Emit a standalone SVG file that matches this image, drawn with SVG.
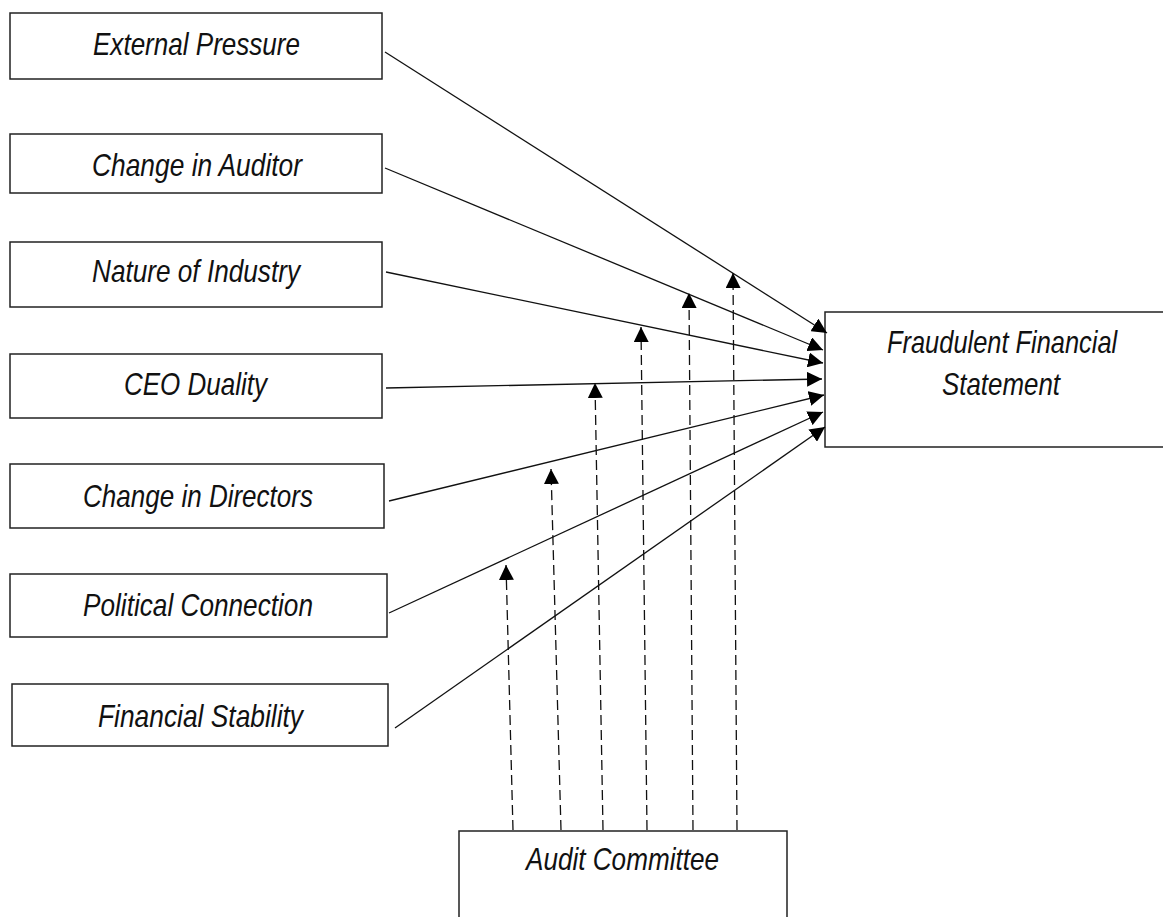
<svg xmlns="http://www.w3.org/2000/svg" width="1163" height="917" viewBox="0 0 1163 917">
<style>
.box{fill:#fff;stroke:#222;stroke-width:1.5}
.lbl{font-family:"Liberation Sans",Arial,sans-serif;font-style:italic;font-size:31.5px;fill:#111}
.ln{stroke:#111;stroke-width:1.3;fill:none}
.dash{stroke:#111;stroke-width:1.3;fill:none;stroke-dasharray:10 5}
</style>
<defs>
<marker id="ah" markerUnits="userSpaceOnUse" markerWidth="15" markerHeight="15" refX="14" refY="7" orient="auto" viewBox="0 0 14 14">
<path d="M0,0 L14,7 L0,14 z" fill="#000"/>
</marker>
</defs>
<rect width="1163" height="917" fill="#fff"/>
<g id="n-external"><rect class="box" x="10" y="13" width="372" height="66"/><text class="lbl" x="93" y="55" textLength="207" lengthAdjust="spacingAndGlyphs">External Pressure</text></g>
<g id="n-auditor"><rect class="box" x="10" y="134" width="372" height="59"/><text class="lbl" x="92" y="176" textLength="210" lengthAdjust="spacingAndGlyphs">Change in Auditor</text></g>
<g id="n-industry"><rect class="box" x="10" y="242" width="372" height="65"/><text class="lbl" x="92" y="282" textLength="208" lengthAdjust="spacingAndGlyphs">Nature of Industry</text></g>
<g id="n-ceo"><rect class="box" x="10" y="354" width="372" height="64"/><text class="lbl" x="124" y="395" textLength="143" lengthAdjust="spacingAndGlyphs">CEO Duality</text></g>
<g id="n-directors"><rect class="box" x="10" y="464" width="374" height="64"/><text class="lbl" x="83" y="507" textLength="230" lengthAdjust="spacingAndGlyphs">Change in Directors</text></g>
<g id="n-political"><rect class="box" x="10" y="574" width="377" height="63"/><text class="lbl" x="83" y="616" textLength="230" lengthAdjust="spacingAndGlyphs">Political Connection</text></g>
<g id="n-stability"><rect class="box" x="12" y="684" width="376" height="62"/><text class="lbl" x="98" y="727" textLength="205" lengthAdjust="spacingAndGlyphs">Financial Stability</text></g>
<g id="n-fraud"><path class="box" d="M1163,312 H825 V447 H1163"/><text class="lbl" x="0" y="0" transform="translate(887,353) scale(0.807,1)">Fraudulent Financial</text><text class="lbl" x="942" y="395" textLength="118" lengthAdjust="spacingAndGlyphs">Statement</text></g>
<g id="n-audit"><path class="box" d="M459,917 V831 H787 V917"/><text class="lbl" x="526" y="870" textLength="193" lengthAdjust="spacingAndGlyphs">Audit Committee</text></g>
<g id="connectors">
<line class="ln" x1="385" y1="52" x2="827" y2="333" marker-end="url(#ah)"/>
<line class="ln" x1="385" y1="168" x2="823" y2="350" marker-end="url(#ah)"/>
<line class="ln" x1="386" y1="272" x2="823" y2="363" marker-end="url(#ah)"/>
<line class="ln" x1="386" y1="388" x2="822" y2="379" marker-end="url(#ah)"/>
<line class="ln" x1="389" y1="501" x2="824" y2="395" marker-end="url(#ah)"/>
<line class="ln" x1="389" y1="613" x2="823" y2="412" marker-end="url(#ah)"/>
<line class="ln" x1="395" y1="728" x2="825" y2="427" marker-end="url(#ah)"/>
<line class="dash" x1="513" y1="830" x2="506" y2="565" marker-end="url(#ah)"/>
<line class="dash" x1="561" y1="830" x2="551" y2="469" marker-end="url(#ah)"/>
<line class="dash" x1="603" y1="830" x2="595" y2="383" marker-end="url(#ah)"/>
<line class="dash" x1="647" y1="830" x2="641" y2="327" marker-end="url(#ah)"/>
<line class="dash" x1="693" y1="830" x2="689" y2="293" marker-end="url(#ah)"/>
<line class="dash" x1="737" y1="830" x2="733" y2="273" marker-end="url(#ah)"/>
</g>
</svg>
